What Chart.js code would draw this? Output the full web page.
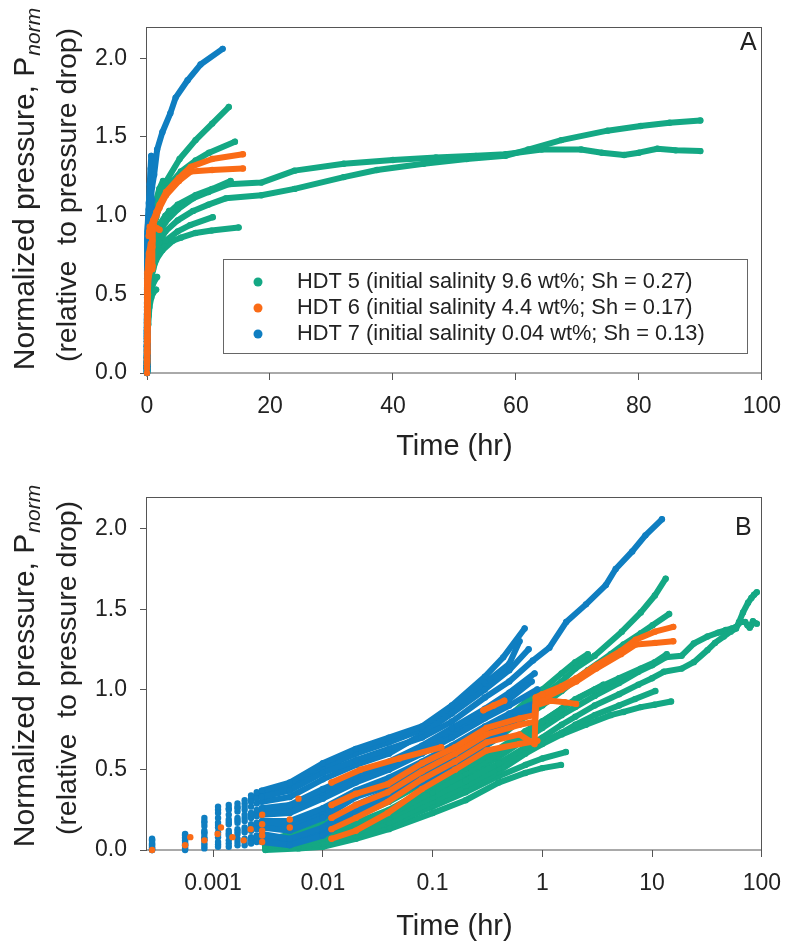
<!DOCTYPE html>
<html>
<head>
<meta charset="utf-8">
<script src="https://cdn.jsdelivr.net/npm/chart.js@4.4.0/dist/chart.umd.min.js"></script>
<style>
html,body{margin:0;padding:0;background:#fff;}
#wrap{position:relative;width:794px;height:945px;overflow:hidden;}
canvas{position:absolute;left:0;}
</style>
</head>
<body>
<div id="wrap">
<canvas id="ca" width="794" height="470" style="top:0px;width:794px;height:470px"></canvas>
<canvas id="cb" width="794" height="475" style="top:470px;width:794px;height:475px"></canvas>
</div>
<script>
// ---------------- DATA ----------------
const seriesLabels = [
  'HDT 5 (initial salinity 9.6 wt%; Sh = 0.27)',
  'HDT 6 (initial salinity 4.4 wt%; Sh = 0.17)',
  'HDT 7 (initial salinity 0.04 wt%; Sh = 0.13)'
];
const xTicksA = [0, 20, 40, 60, 80, 100];
const xTicksB = [0.001, 0.01, 0.1, 1, 10, 100];
const yTicks = [0, 0.5, 1.0, 1.5, 2.0];
const xTitle = 'Time (hr)';
const yTitleMain = 'Normalized pressure, P';
const yTitleSub = 'norm';
const yTitle2 = '(relative  to pressure drop)';

// HDT 5 runs: [time (hr), normalized pressure]
const hdt5_r1 = [[0.003,0.05],[0.006,0.10],[0.01,0.15],[0.02,0.22],[0.04,0.32],[0.1,0.48],[0.2,0.60],[0.4,0.74],[0.7,0.88],[1,0.96],[1.5,1.05],[2,1.13],[3,1.21],[5.3,1.36],[7.9,1.48],[10.6,1.585],[13.3,1.69]];
const hdt5_r2 = [[0.003,0.04],[0.006,0.09],[0.01,0.14],[0.02,0.21],[0.04,0.30],[0.1,0.45],[0.2,0.57],[0.4,0.70],[0.7,0.83],[1,0.90],[1.5,0.99],[2,1.06],[2.6,1.12],[4.2,1.22],[5.5,1.28],[7.9,1.35],[10.1,1.40],[14.3,1.47]];
const hdt5_r3 = [[0.003,0.06],[0.006,0.11],[0.01,0.17],[0.02,0.24],[0.04,0.34],[0.1,0.50],[0.2,0.63],[0.4,0.78],[0.7,0.92],[1,1.00],[1.5,1.10],[2,1.17],[2.6,1.22]];
const hdt5_r4 = [[0.003,0.03],[0.006,0.07],[0.01,0.11],[0.02,0.17],[0.04,0.25],[0.1,0.40],[0.2,0.51],[0.4,0.63],[0.7,0.74],[1,0.80],[1.5,0.88],[2,0.94],[3,1.00],[5,1.07],[7.9,1.13],[10.6,1.17],[13.6,1.22]];
const hdt5_r5 = [[0.003,0.03],[0.006,0.06],[0.01,0.10],[0.02,0.15],[0.04,0.22],[0.1,0.36],[0.2,0.48],[0.4,0.60],[0.7,0.72],[1,0.80],[1.5,0.88],[2.2,0.95],[3.6,1.03]];
const hdt5_r6 = [[0.003,0.02],[0.006,0.05],[0.01,0.08],[0.02,0.13],[0.04,0.20],[0.1,0.33],[0.2,0.43],[0.4,0.54],[0.7,0.64],[1,0.70],[1.5,0.78],[2,0.83],[3,0.90],[5,0.97],[7.5,1.03],[10,1.07],[12.8,1.11],[18.6,1.13],[24,1.17],[32,1.245],[37.4,1.29],[45,1.33],[52,1.36],[58.3,1.38],[62,1.42],[67.4,1.48],[74.9,1.54],[80.3,1.57],[85,1.59],[90,1.605]];
const hdt5_r7 = [[0.003,0.03],[0.006,0.06],[0.01,0.09],[0.02,0.14],[0.04,0.22],[0.1,0.35],[0.2,0.46],[0.4,0.58],[0.7,0.69],[1,0.76],[1.5,0.84],[2,0.89],[3,0.96],[5,1.04],[7.5,1.11],[10,1.15],[13.3,1.20],[18.6,1.21],[24,1.286],[32,1.33],[40,1.354],[47,1.37],[53.5,1.38],[58.3,1.39],[64.2,1.42],[70.6,1.42],[74,1.40],[77.6,1.385],[80,1.40],[83,1.425],[86,1.415],[90,1.41]];
const hdt5_r8 = [[0.003,0.02],[0.006,0.04],[0.01,0.07],[0.02,0.11],[0.04,0.17],[0.1,0.30],[0.2,0.40],[0.4,0.51],[0.7,0.61],[1,0.67],[1.5,0.73],[2,0.78],[3,0.84],[5,0.90],[7,0.94],[10.7,0.99]];
const hdt5_r9 = [[0.003,0.01],[0.006,0.03],[0.01,0.05],[0.02,0.09],[0.04,0.15],[0.1,0.28],[0.2,0.37],[0.4,0.49],[0.7,0.60],[1,0.66],[1.5,0.72],[2.5,0.78],[4.2,0.84],[5.5,0.86],[7.9,0.89],[10.5,0.905],[14.9,0.925]];
const hdt5_r10 = [[0.003,0.01],[0.006,0.02],[0.01,0.04],[0.02,0.09],[0.04,0.16],[0.1,0.27],[0.2,0.36],[0.4,0.46],[0.7,0.53],[1,0.57],[1.64,0.61]];
const hdt5_r11 = [[0.003,0.00],[0.006,0.01],[0.01,0.02],[0.02,0.07],[0.04,0.13],[0.1,0.23],[0.2,0.31],[0.4,0.42],[0.7,0.48],[1,0.51],[1.48,0.53]];

// HDT 6 runs
const hdt6_r1 = [[0.000278,0.00],[0.00062,0.08],[0.00118,0.14],[0.0022,0.13],[0.0028,0.16],[0.005,0.19],[0.012,0.28],[0.02,0.35],[0.039,0.41],[0.08,0.54],[0.16,0.64],[0.31,0.76],[0.62,0.82],[0.85,0.84],[0.87,0.95],[1.0,0.97],[1.5,1.02],[2.04,1.07],[3.1,1.15],[5.2,1.24],[7.1,1.31],[10.6,1.36],[15.6,1.39]];
const hdt6_r2 = [[0.000556,0.03],[0.000833,0.06],[0.0015,0.08],[0.0028,0.12],[0.005,0.14],[0.012,0.20],[0.02,0.28],[0.039,0.36],[0.08,0.49],[0.16,0.60],[0.31,0.72],[0.62,0.78],[0.86,0.80],[0.88,0.92],[1.0,0.94],[1.5,1.00],[2.04,1.05],[3.1,1.13],[5.2,1.22],[7.1,1.28],[10.6,1.29],[15.6,1.30]];
const hdt6_r3 = [[0.0011,0.10],[0.0028,0.09],[0.012,0.13],[0.02,0.20],[0.039,0.30],[0.08,0.44],[0.16,0.55],[0.31,0.67],[0.62,0.72],[0.85,0.66],[0.87,0.90],[1.2,0.93],[1.6,0.92],[2.03,0.91]];
const hdt6_r4 = [[0.0019,0.06],[0.0028,0.05],[0.012,0.07],[0.02,0.12],[0.039,0.23],[0.08,0.38],[0.16,0.50],[0.31,0.62],[0.62,0.66],[0.9,0.68]];
const hdt6_r5 = [[0.0028,0.22],[0.006,0.32],[0.012,0.42],[0.022,0.50],[0.05,0.57],[0.12,0.64]];
const hdt6_r6 = [[0.29,0.87],[0.36,0.90],[0.45,0.93]];

// HDT 7 runs
const hdt7_r1 = [[0.000278,0.06],[0.000556,0.09],[0.000833,0.17],[0.00111,0.23],[0.00139,0.25],[0.00167,0.26],[0.00194,0.27],[0.00222,0.30],[0.0025,0.32],[0.00278,0.33],[0.005,0.37],[0.01,0.48],[0.02,0.56],[0.04,0.63],[0.08,0.70],[0.15,0.80],[0.3,0.95],[0.5,1.05],[0.82,1.18],[1.16,1.26],[1.65,1.42],[2.5,1.53],[3.79,1.65],[4.66,1.75],[6.6,1.86],[8.7,1.96],[12.3,2.06]];
const hdt7_r2 = [[0.000278,0.07],[0.000556,0.10],[0.000833,0.20],[0.00111,0.27],[0.00139,0.28],[0.00167,0.29],[0.00194,0.31],[0.00222,0.34],[0.0025,0.36],[0.00278,0.37],[0.005,0.42],[0.01,0.54],[0.02,0.63],[0.04,0.70],[0.08,0.77],[0.15,0.90],[0.3,1.08],[0.44,1.20],[0.69,1.38]];
const hdt7_r3 = [[0.000278,0.05],[0.000556,0.08],[0.000833,0.15],[0.00111,0.20],[0.00139,0.22],[0.00167,0.24],[0.00194,0.25],[0.00222,0.27],[0.0025,0.29],[0.00278,0.30],[0.005,0.33],[0.01,0.44],[0.02,0.53],[0.04,0.60],[0.08,0.72],[0.15,0.85],[0.3,1.00],[0.5,1.12],[0.75,1.25]];
const hdt7_r4 = [[0.000278,0.04],[0.000556,0.07],[0.000833,0.12],[0.00111,0.17],[0.00139,0.19],[0.00167,0.20],[0.00194,0.22],[0.00222,0.23],[0.0025,0.25],[0.00278,0.26],[0.005,0.28],[0.01,0.38],[0.02,0.47],[0.04,0.55],[0.08,0.65],[0.15,0.76],[0.3,0.88],[0.5,0.98],[0.85,1.10]];
const hdt7_r5 = [[0.000278,0.03],[0.000556,0.05],[0.000833,0.10],[0.00111,0.14],[0.00139,0.16],[0.00167,0.17],[0.00194,0.18],[0.00222,0.20],[0.0025,0.21],[0.00278,0.22],[0.005,0.23],[0.01,0.32],[0.02,0.42],[0.04,0.50],[0.08,0.60],[0.15,0.70],[0.3,0.82],[0.5,0.90],[0.9,1.00]];
const hdt7_r6 = [[0.000278,0.02],[0.000556,0.04],[0.000833,0.08],[0.00111,0.11],[0.00139,0.12],[0.00167,0.13],[0.00194,0.14],[0.00222,0.16],[0.0025,0.17],[0.00278,0.18],[0.005,0.18],[0.01,0.26],[0.02,0.37],[0.04,0.45],[0.08,0.55],[0.15,0.65],[0.3,0.77],[0.5,0.85],[0.9,0.92]];
const hdt7_r7 = [[0.000278,0.01],[0.000556,0.03],[0.000833,0.06],[0.00111,0.08],[0.00139,0.09],[0.00167,0.10],[0.00194,0.11],[0.00222,0.12],[0.0025,0.13],[0.00278,0.14],[0.005,0.12],[0.01,0.20],[0.02,0.33],[0.04,0.40],[0.08,0.50],[0.15,0.60],[0.3,0.72],[0.5,0.80],[0.8,0.86]];
const hdt7_r8 = [[0.000278,0.00],[0.000556,0.02],[0.000833,0.04],[0.00111,0.05],[0.00139,0.06],[0.00167,0.07],[0.00194,0.07],[0.00222,0.08],[0.0025,0.09],[0.00278,0.10],[0.005,0.07],[0.01,0.14],[0.02,0.28],[0.04,0.37],[0.08,0.46],[0.15,0.57],[0.3,0.68],[0.6,0.80]];
const hdt7_r9 = [[0.000278,0.00],[0.000556,0.00],[0.000833,0.01],[0.00111,0.02],[0.00139,0.02],[0.00167,0.03],[0.00194,0.03],[0.00222,0.04],[0.0025,0.05],[0.00278,0.05],[0.005,0.03],[0.01,0.09],[0.02,0.22],[0.04,0.33],[0.08,0.42],[0.15,0.52],[0.3,0.62]];
const hdt7_r10 = [[0.000278,0.065],[0.000556,0.095],[0.000833,0.18],[0.00111,0.25],[0.00139,0.26],[0.00167,0.27],[0.00194,0.29],[0.00222,0.32],[0.0025,0.34],[0.00278,0.35],[0.005,0.40],[0.01,0.51],[0.02,0.60],[0.04,0.67],[0.08,0.75],[0.15,0.88],[0.3,1.04],[0.5,1.16],[0.62,1.30]];
const hdt7_r11 = [[0.000278,0.035],[0.000556,0.06],[0.000833,0.11],[0.00111,0.155],[0.00139,0.175],[0.00167,0.185],[0.00194,0.20],[0.00222,0.215],[0.0025,0.23],[0.00278,0.24],[0.005,0.26],[0.01,0.35],[0.02,0.45],[0.04,0.53],[0.08,0.63],[0.15,0.73],[0.3,0.85],[0.5,0.94],[0.8,1.05]];
const hdt7_r12 = [[0.000278,0.015],[0.000556,0.035],[0.000833,0.07],[0.00111,0.095],[0.00139,0.105],[0.00167,0.115],[0.00194,0.125],[0.00222,0.14],[0.0025,0.15],[0.00278,0.16],[0.005,0.15],[0.01,0.23],[0.02,0.35],[0.04,0.43],[0.08,0.53],[0.15,0.63],[0.3,0.75],[0.5,0.83],[0.85,0.90]];
const hdt7_r13 = [[0.000278,0.005],[0.000556,0.01],[0.000833,0.025],[0.00111,0.035],[0.00139,0.04],[0.00167,0.05],[0.00194,0.05],[0.00222,0.06],[0.0025,0.07],[0.00278,0.075],[0.005,0.05],[0.01,0.12],[0.02,0.25],[0.04,0.35],[0.08,0.44],[0.15,0.55],[0.3,0.65],[0.45,0.72]];

const hdt5Runs = [hdt5_r1, hdt5_r2, hdt5_r3, hdt5_r4, hdt5_r5, hdt5_r6, hdt5_r7, hdt5_r8, hdt5_r9, hdt5_r10, hdt5_r11];
const hdt6Runs = [hdt6_r1, hdt6_r2, hdt6_r3, hdt6_r4, hdt6_r5, hdt6_r6];
const hdt7Runs = [hdt7_r1, hdt7_r2, hdt7_r3, hdt7_r4, hdt7_r5, hdt7_r6, hdt7_r7, hdt7_r8, hdt7_r9, hdt7_r10, hdt7_r11, hdt7_r12, hdt7_r13];

// ---------------- STYLE ----------------
const FONT = "'Liberation Sans', Arial, Helvetica, sans-serif";
const TEXT = '#222222';
const AXIS = '#555555';
const C5 = '#14a884', C6 = '#fa6b16', C7 = '#0f7ec1';
const seriesColors = [C5, C6, C7];
Chart.defaults.font.family = FONT;
Chart.defaults.color = TEXT;

// time before which a run is shown as separate samples only (no joining line)
const lineStart = { hdt5: 0.0027, hdt6: 0.011, hdt7: 0.0027 };

function makeDatasets() {
  const out = [];
  const add = (runs, color, order, t0) => runs.forEach(run => out.push({
    data: run.map(([x, y]) => ({x, y})),
    showLine: true,
    borderColor: color,
    backgroundColor: color,
    borderWidth: 6,
    pointRadius: 3.2,
    pointBorderWidth: 0,
    pointHoverRadius: 0,
    borderJoinStyle: 'round',
    borderCapStyle: 'round',
    tension: 0,
    clip: false,
    order: order,
    segment: { borderColor: c => (c.p0.parsed.x < t0 ? 'rgba(0,0,0,0)' : color) }
  }));
  add(hdt5Runs, C5, 3, lineStart.hdt5);
  add(hdt7Runs, C7, 2, lineStart.hdt7);
  add(hdt6Runs, C6, 1, lineStart.hdt6);
  return out;
}

function yScale() {
  return {
    type: 'linear', min: 0, max: 2.2,
    afterBuildTicks: s => { s.ticks = yTicks.map(v => ({value: v})); },
    afterFit: s => { s.width = 147; },
    ticks: { callback: v => Number(v).toFixed(1), font: {size: 23, family: FONT}, color: TEXT, padding: 13, autoSkip: false },
    grid: { drawOnChartArea: false, drawTicks: true, tickLength: 7, color: AXIS, lineWidth: 1 },
    border: { display: false },
    title: { display: false }
  };
}
function xGrid() {
  return { drawOnChartArea: false, drawTicks: true, tickLength: 7, color: AXIS, lineWidth: 1 };
}

function decoPlugin(p) {
  return {
    id: 'deco' + p.letter,
    beforeDatasetsDraw(chart) {
      const {ctx, chartArea: a} = chart;
      ctx.save();
      ctx.strokeStyle = AXIS; ctx.lineWidth = 1;
      ctx.strokeRect(Math.round(a.left) - 0.5, Math.round(a.top) + 0.5, Math.round(a.right - a.left), Math.round(a.bottom - a.top) - 0.5);
      ctx.restore();
    },
    afterDraw(chart) {
      const {ctx, chartArea: a} = chart;
      ctx.save();
      ctx.fillStyle = TEXT;
      ctx.font = '25px ' + FONT; ctx.textAlign = 'left'; ctx.textBaseline = 'alphabetic';
      ctx.fillText(p.letter, p.letterX, p.letterY);
      ctx.font = '29px ' + FONT; ctx.textAlign = 'center';
      ctx.fillText(xTitle, (a.left + a.right) / 2, p.xTitleY);
      ctx.font = '30px ' + FONT;
      const w1 = ctx.measureText(yTitleMain).width;
      ctx.font = 'italic 21px ' + FONT;
      const w2 = ctx.measureText(yTitleSub).width;
      ctx.save();
      ctx.translate(34, p.y1c); ctx.rotate(-Math.PI / 2);
      ctx.textAlign = 'left';
      const st = -(w1 + w2 + 1) / 2;
      ctx.font = '30px ' + FONT; ctx.fillText(yTitleMain, st, 0);
      ctx.font = 'italic 21px ' + FONT; ctx.fillText(yTitleSub, st + w1 + 1, 6);
      ctx.restore();
      ctx.save();
      ctx.translate(76, p.y2c); ctx.rotate(-Math.PI / 2);
      ctx.font = '28.5px ' + FONT; ctx.textAlign = 'center';
      ctx.fillText(yTitle2, 0, 0);
      ctx.restore();
      if (p.legend) {
        const L = p.legend;
        ctx.fillStyle = '#ffffff';
        ctx.fillRect(L.x, L.y, L.w, L.h);
        ctx.strokeStyle = '#666666'; ctx.lineWidth = 1;
        ctx.strokeRect(L.x + 0.5, L.y + 0.5, L.w, L.h);
        ctx.font = '21.8px ' + FONT; ctx.textAlign = 'left'; ctx.textBaseline = 'alphabetic';
        seriesLabels.forEach((lab, i) => {
          const by = L.firstBase + i * L.step;
          ctx.fillStyle = seriesColors[i];
          ctx.beginPath(); ctx.arc(L.markX, by - 6, 4.5, 0, Math.PI * 2); ctx.fill();
          ctx.fillStyle = TEXT;
          ctx.fillText(lab, L.textX, by);
        });
      }
      ctx.restore();
    }
  };
}

const common = {
  responsive: false,
  animation: false,
  events: [],
  plugins: { legend: { display: false }, tooltip: { enabled: false } }
};

new Chart(document.getElementById('ca'), {
  type: 'scatter',
  data: { datasets: makeDatasets() },
  options: Object.assign({}, common, {
    layout: { padding: { top: 17, right: 25, left: 0, bottom: 0 } },
    scales: {
      x: {
        type: 'linear', position: 'bottom', min: 0, max: 100,
        afterBuildTicks: s => { s.ticks = xTicksA.map(v => ({value: v})); },
        afterFit: s => { s.height = 97; },
        ticks: { callback: v => String(v), font: {size: 23, family: FONT}, color: TEXT, padding: 13, maxRotation: 0, autoSkip: false },
        grid: xGrid(), border: { display: false }, title: { display: false }
      },
      y: yScale()
    }
  }),
  plugins: [decoPlugin({ letter: 'A', letterX: 740, letterY: 50, xTitleY: 455, y1c: 189, y2c: 195,
    legend: { x: 223, y: 259, w: 524, h: 94, markX: 258, textX: 297, firstBase: 288, step: 26 } })]
});

new Chart(document.getElementById('cb'), {
  type: 'scatter',
  data: { datasets: makeDatasets() },
  options: Object.assign({}, common, {
    layout: { padding: { top: 25, right: 26, left: 0, bottom: 0 } },
    scales: {
      x: {
        type: 'logarithmic', position: 'bottom', min: 0.00025, max: 100,
        afterBuildTicks: s => { s.ticks = xTicksB.map(v => ({value: v})); },
        afterFit: s => { s.height = 95; },
        ticks: { callback: v => String(v), font: {size: 23, family: FONT}, color: TEXT, padding: 13, maxRotation: 0, autoSkip: false },
        grid: xGrid(), border: { display: false }, title: { display: false }
      },
      y: yScale()
    }
  }),
  plugins: [decoPlugin({ letter: 'B', letterX: 735, letterY: 65, xTitleY: 465, y1c: 196, y2c: 198, legend: null })]
});
</script>
</body>
</html>
